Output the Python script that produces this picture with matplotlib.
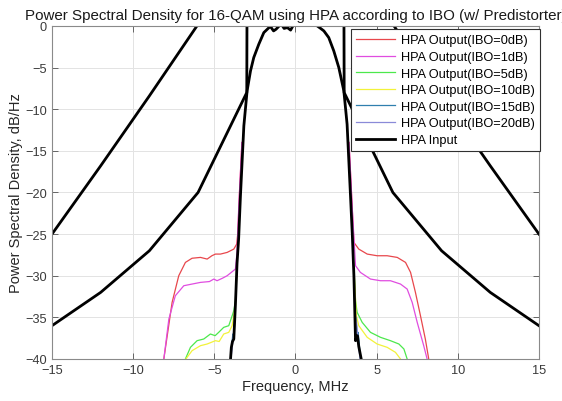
import numpy as np
import matplotlib.pyplot as plt

# data
# HPA input PSD (main lobe)
f_in = [-4.0, -3.95, -3.88, -3.8, -3.7, -3.6, -3.5, -3.39, -3.18, -2.98, -2.77, -2.57,
        -2.26, -1.95, -1.55, -1.35, -1.2, -1.05, -0.9, -0.7, -0.5, -0.3, -0.1, 0.1, 0.4,
        0.8, 1.1, 1.34, 1.55, 1.75, 2.05, 2.36, 2.67, 2.98, 3.18, 3.39, 3.5, 3.6, 3.7,
        3.82, 3.9, 3.97, 4.05]
p_in = [-40, -38.6, -37.9, -37.6, -33.5, -28.5, -25.5, -20.4, -12.0, -7.8, -5.4, -3.8,
        -2.2, -0.8, -0.05, -0.6, -0.4, -0.1, 0.3, -0.3, -0.2, -0.5, 0.2, 0.5, 0.6,
        0.5, 0.3, 0.0, -0.3, -0.6, -1.4, -3.0, -5.0, -7.8, -11.8, -20.4, -25.0, -30.0, -37.8,
        -37.2, -38.5, -39.2, -40]

# coarse black curves (3 MHz grid)
f_coarse = [-15, -12, -9, -6, -3, 0, 3, 6, 9, 12, 15]
p_outer = [-25, -16.8, -8.4, 0.2, 9, 18, 9, 0.2, -8.4, -16.8, -25]
p_inner = [-36, -32, -27, -20, -8, 2000, -8, -20, -27, -32, -36]

# HPA outputs: left shoulder, right shoulder
f0_l = [-8.11, -7.9, -7.6, -7.19, -6.78, -6.37, -5.85, -5.44, -5.15, -4.93, -4.62, -4.21, -3.8, -3.62, -3.55, -3.45, -3.3]
p0_l = [-40, -37.2, -33.2, -30.0, -28.4, -27.9, -27.8, -28.0, -27.6, -27.4, -27.4, -27.2, -26.8, -26.2, -24.8, -20, -14]
f0_r = [3.3, 3.45, 3.6, 3.9, 4.42, 5.03, 5.65, 6.27, 6.78, 7.09, 7.39, 7.7, 8.0, 8.21]
p0_r = [-14, -20, -26.0, -26.8, -27.4, -27.6, -27.6, -27.8, -28.4, -29.6, -32.0, -34.8, -37.6, -40]

f1_l = [-8.11, -7.8, -7.4, -6.88, -6.37, -5.85, -5.3, -5.03, -4.83, -4.5, -4.21, -3.7, -3.6, -3.5, -3.3]
p1_l = [-40, -35.2, -32.4, -31.2, -31.0, -30.8, -30.7, -30.4, -30.6, -30.3, -30.0, -29.2, -27.2, -22, -14]
f1_r = [3.3, 3.5, 3.7, 4.0, 4.62, 5.24, 5.85, 6.47, 6.88, 7.19, 7.5, 7.9, 8.11]
p1_r = [-14, -22, -28.8, -29.6, -30.4, -30.6, -30.6, -31.0, -31.6, -33.2, -35.6, -38.4, -40]

f5_l = [-6.78, -6.47, -6.06, -5.65, -5.24, -4.95, -4.73, -4.42, -4.11, -3.9, -3.8, -3.7, -3.6]
p5_l = [-40, -38.6, -37.8, -37.6, -37.0, -37.2, -36.8, -36.2, -36.0, -34.8, -34.2, -33.0, -29]
f5_r = [3.6, 3.7, 3.8, 4.11, 4.62, 5.24, 5.85, 6.37, 6.68, 6.88]
p5_r = [-29, -33.0, -34.4, -35.6, -36.8, -37.4, -37.8, -38.2, -38.8, -40]

f10_l = [-6.75, -6.37, -5.85, -5.44, -4.93, -4.7, -4.42, -4.11, -3.9, -3.8, -3.7, -3.6]
p10_l = [-40, -39.0, -38.4, -38.2, -37.8, -37.9, -37.0, -36.8, -36.0, -34.8, -33.5, -29]
f10_r = [3.6, 3.75, 3.9, 4.42, 5.03, 5.65, 6.16, 6.47]
p10_r = [-29, -34.8, -36.0, -37.4, -38.2, -38.6, -39.2, -40]

f15_l = [-3.98, -3.92, -3.86, -3.8, -3.72]
p15_l = [-40, -38.2, -37.0, -37.3, -35]
f15_r = [3.72, 3.8, 3.86, 3.93, 4.0]
p15_r = [-35, -37.0, -36.8, -38.2, -40]

f20_l = [-3.97, -3.9, -3.84, -3.76]
p20_l = [-40, -38.5, -37.6, -35.5]
f20_r = [3.76, 3.84, 3.9, 3.98]
p20_r = [-35.5, -37.4, -38.6, -40]

outputs = [
    ('HPA Output(IBO=0dB)', '#e8474c', f0_l, p0_l, f0_r, p0_r),
    ('HPA Output(IBO=1dB)', '#e04de0', f1_l, p1_l, f1_r, p1_r),
    ('HPA Output(IBO=5dB)', '#4ce84c', f5_l, p5_l, f5_r, p5_r),
    ('HPA Output(IBO=10dB)', '#f2f23a', f10_l, p10_l, f10_r, p10_r),
    ('HPA Output(IBO=15dB)', '#2f7fae', f15_l, p15_l, f15_r, p15_r),
    ('HPA Output(IBO=20dB)', '#8a8ad8', f20_l, p20_l, f20_r, p20_r),
]

plt.rcParams['font.family'] = ['Liberation Sans', 'DejaVu Sans']

fig = plt.figure(figsize=(5.62, 4.02), dpi=100)
ax = fig.add_axes([0.0925, 0.1045, 0.8665, 0.8285])

for label, col, fl, pl, fr, pr in outputs:
    x = fl + [np.nan] + fr
    y = pl + [np.nan] + pr
    ax.plot(x, y, color=col, lw=0.9, label=label)

ax.plot(f_in, p_in, color='black', lw=2, label='HPA Input')
ax.plot(f_coarse, p_outer, color='black', lw=2)
ax.plot(f_coarse, p_inner, color='black', lw=2)

ax.set_xlim(-15, 15)
ax.set_ylim(-40, 0)
ax.set_xticks(np.arange(-15, 16, 5))
ax.set_yticks(np.arange(-40, 1, 5))
ax.grid(True, color='#e3e3e3', lw=0.7)
ax.tick_params(direction='in', top=True, right=True, labelsize=9.2, colors='#505050',
               length=4, width=0.6, labelcolor='#3a3a3a')
for s in ax.spines.values():
    s.set_color('#8a8a8a')
    s.set_linewidth(0.8)

# title is wider than the figure in the original too
ax.set_title('Power Spectral Density for 16-QAM using HPA according to IBO (w/ Predistorter)',
             fontsize=10.9, pad=5, color='#1a1a1a')
ax.set_xlabel('Frequency, MHz', fontsize=10.5, color='#262626', labelpad=2)
ax.set_ylabel('Power Spectral Density, dB/Hz', fontsize=10.5, color='#262626', labelpad=2)

leg = ax.legend(loc='upper right', bbox_to_anchor=(1.002, 0.99), fontsize=9.2,
                frameon=True, fancybox=False, framealpha=1, borderaxespad=0,
                handlelength=3.0, handletextpad=0.5, labelspacing=0.36,
                borderpad=0.4)
leg.get_frame().set_edgecolor('#303030')
leg.get_frame().set_linewidth(0.8)

fig.savefig('out.png', dpi=100)
